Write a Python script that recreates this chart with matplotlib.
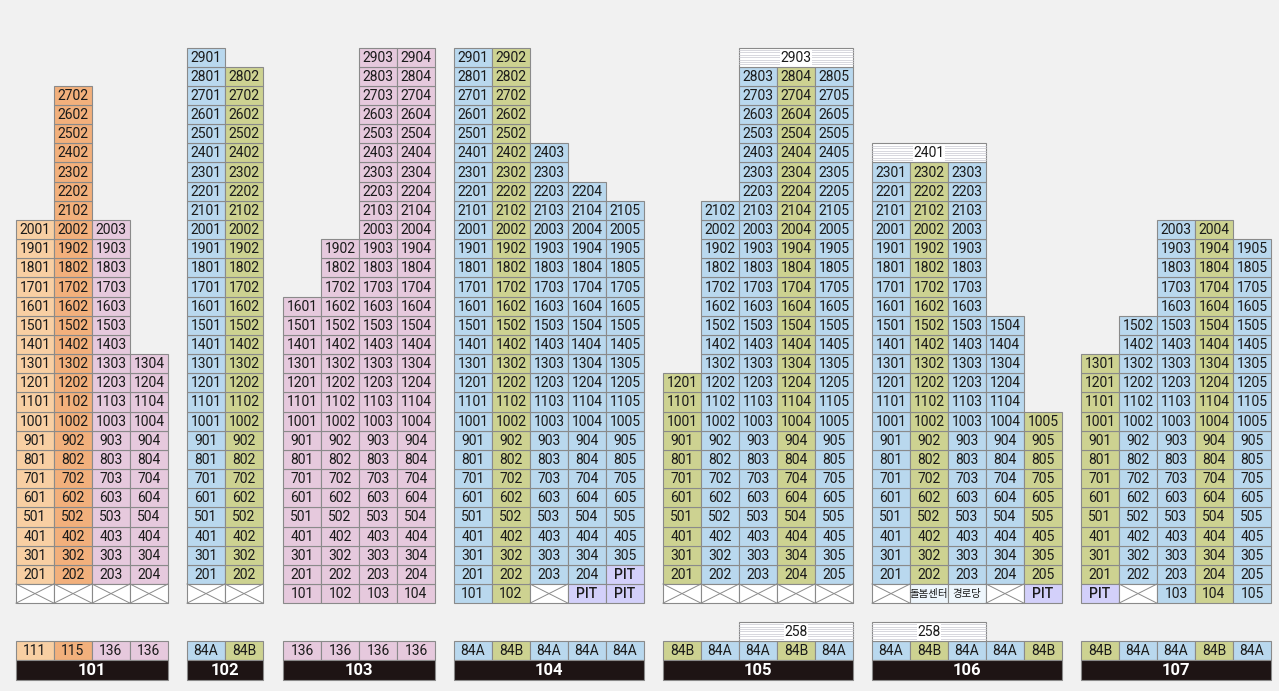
import matplotlib
matplotlib.use("Agg")
import matplotlib.pyplot as plt
from matplotlib.patches import Rectangle
from matplotlib import font_manager

names = {f.name for f in font_manager.fontManager.ttflist}
base = 'Liberation Sans Narrow' if 'Liberation Sans Narrow' in names else 'Roboto'
FAM = [base, 'Noto Sans CJK KR', 'DejaVu Sans']

# ---- data ----
buildings = ['101', '102', '103', '104', '105', '106', '107']
types = {
    '101': ['111', '115', '136', '136'],
    '102': ['84A', '84B'],
    '103': ['136', '136', '136', '136'],
    '104': ['84A', '84B', '84A', '84A', '84A'],
    '105': ['84B', '84A', '84A', '84B', '84A'],
    '106': ['84A', '84B', '84A', '84A', '84B'],
    '107': ['84B', '84A', '84A', '84B', '84A'],
}
top_floor = {
    '101': [20, 27, 20, 13],
    '102': [29, 28],
    '103': [16, 19, 29, 29],
    '104': [29, 29, 24, 22, 21],
    '105': [12, 21, 28, 28, 28],
    '106': [23, 23, 23, 15, 10],
    '107': [13, 15, 20, 20, 19],
}
low_floor = {
    '101': [2, 2, 2, 2],
    '102': [2, 2],
    '103': [1, 1, 1, 1],
    '104': [1, 1, 2, 2, 3],
    '105': [2, 2, 2, 2, 2],
    '106': [2, 2, 2, 2, 2],
    '107': [2, 2, 1, 1, 1],
}
special = {
    '101': [[(1, 'X')]] * 4,
    '102': [[(1, 'X')]] * 2,
    '103': [[]] * 4,
    '104': [[], [], [(1, 'X')], [(1, 'PIT')], [(1, 'PIT'), (2, 'PIT')]],
    '105': [[(1, 'X')]] * 5,
    '106': [[(1, 'X')], [(1, '돌봄센터')], [(1, '경로당')], [(1, 'X')], [(1, 'PIT')]],
    '107': [[(1, 'PIT')], [(1, 'X')], [], [], []],
}
extras = [('105', 2, 4, 29, '2903'), ('106', 0, 2, 24, '2401'),
          ('105', 2, 4, 'type', '258'), ('106', 0, 2, 'type', '258')]

# ---- style / layout ----
colors = {'111': '#f8cfa3', '115': '#f2b07c', '136': '#e6c9dd',
          '84A': '#b9d8ee', '84B': '#cdd291'}
bstart = {'101': 16, '102': 187, '103': 283, '104': 454, '105': 663, '106': 872, '107': 1081}
CW = 38
FH = 19.16
F1TOP = 584.0
TYPE_TOP = 641
BAR_TOP = 660
BAR_H = 20
EDGE = '#8a8a8a'
FS = 10

fig = plt.figure(figsize=(12.79, 6.91), dpi=100)
fig.patch.set_facecolor('#f1f1f1')
ax = fig.add_axes([0, 0, 1, 1])
ax.set_xlim(0, 1279)
ax.set_ylim(691, 0)
ax.axis('off')


def ftop(f):
    return F1TOP - (f - 1) * FH


def cell(x, y, w, h, fc, txt=None, fs=FS, tc='#1a1a1a', weight='normal'):
    ax.add_patch(Rectangle((x, y), w, h, facecolor=fc, edgecolor=EDGE, lw=0.8))
    if txt:
        ax.text(x + w / 2, y + h / 2 + 0.5, txt, ha='center', va='center',
                fontsize=fs, color=tc, family=FAM, fontweight=weight)


def hatched(x, y, w, h, label):
    ax.add_patch(Rectangle((x, y), w, h, facecolor='white', edgecolor=EDGE, lw=0.8))
    k = 1
    while k * 2.4 < h:
        ax.plot([x, x + w], [y + k * 2.4] * 2, color='#c8c8d0', lw=0.5)
        k += 1
    ax.text(x + w / 2, y + h / 2 + 0.5, label, ha='center', va='center', fontsize=FS,
            family=FAM, color='#1a1a1a',
            bbox=dict(facecolor='white', edgecolor='none', pad=0.5))


for b in buildings:
    x0 = bstart[b]
    n = len(types[b])
    for i in range(n):
        x = x0 + i * CW
        col = colors[types[b][i]]
        for f in range(low_floor[b][i], top_floor[b][i] + 1):
            cell(x, ftop(f), CW, FH, col, f"{f}{i + 1:02d}")
        for f, kind in special[b][i]:
            y = ftop(f)
            if kind == 'X':
                cell(x, y, CW, FH, 'white')
                ax.plot([x, x + CW], [y, y + FH], color=EDGE, lw=0.7)
                ax.plot([x, x + CW], [y + FH, y], color=EDGE, lw=0.7)
            elif kind == 'PIT':
                cell(x, y, CW, FH, '#d3d0fa', 'PIT', weight='medium')
            else:
                cell(x, y, CW, FH, '#eef6fc', kind, fs=7.5)
        cell(x, TYPE_TOP, CW, FH, col, types[b][i])
    ax.add_patch(Rectangle((x0, BAR_TOP), n * CW, BAR_H, facecolor='#1e1414',
                           edgecolor=EDGE, lw=0.8))
    ax.text(x0 + n * CW / 2, BAR_TOP + BAR_H / 2 + 0.5, b, ha='center', va='center',
            fontsize=12, color='white', fontweight='bold', family=FAM)

for b, i0, i1, fl, label in extras:
    x = bstart[b] + i0 * CW
    w = (i1 - i0 + 1) * CW
    y = ftop(fl) if fl != 'type' else TYPE_TOP - FH
    hatched(x, y, w, FH, label)

fig.savefig('out.png', dpi=100, facecolor=fig.get_facecolor())
